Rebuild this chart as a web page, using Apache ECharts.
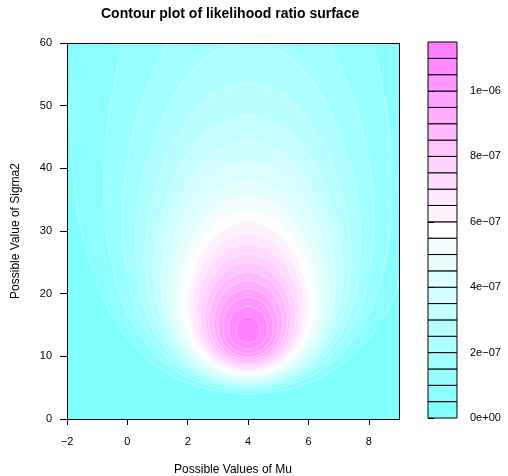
<!DOCTYPE html>
<html><head><meta charset="utf-8">
<script src="https://cdn.jsdelivr.net/npm/echarts@6/dist/echarts.min.js"></script>
<style>html,body{margin:0;padding:0;background:#fff}#chart{width:508px;height:476px}</style>
</head><body><div id="chart"></div>
<script>
// ---------- text ----------
const titleText = 'Contour plot of likelihood ratio surface';
const xName = 'Possible Values of Mu';
const yName = 'Possible Value of Sigma2';

// ---------- axes / tick labels ----------
const xRange = [-2, 9];
const yRange = [0, 60];
const xTicks = [-2, 0, 2, 4, 6, 8];
const yTicks = [0, 10, 20, 30, 40, 50, 60];
const keyTickValues = [0, 2e-7, 4e-7, 6e-7, 8e-7, 1e-6];
const keyTickLabels = ['0e+00', '2e\u221207', '4e\u221207', '6e\u221207', '8e\u221207', '1e\u221206'];

// ---------- colour-key cut points (likelihood ratio) ----------
const levelBreaks = [0, 5e-8, 1e-7, 1.5e-7, 2e-7, 2.5e-7, 3e-7, 3.5e-7, 4e-7, 4.5e-7, 5e-7, 5.5e-7,
  6e-7, 6.5e-7, 7e-7, 7.5e-7, 8e-7, 8.5e-7, 9e-7, 9.5e-7, 1e-6, 1.05e-6, 1.1e-6, 1.15e-6];

// ---------- contour boundaries read from the surface ----------
// the surface is symmetric about mu = muHat; each level lists [sigma2, half-width in mu]
const muHat = 4;
const lvl01 = [[4,0],[4.5,1.105],[5,1.544],[6,2.137],[7,2.566],[8,2.908],[10,3.441],[14,4.179],[20,4.880],[30,5.527],[40,5.823],[50,5.892],[60,5.790],[70,5.537]];
const lvl02 = [[4.51,0],[5,0.999],[5.5,1.405],[6,1.704],[7,2.155],[8,2.497],[10,3.011],[14,3.685],[20,4.275],[30,4.716],[40,4.777],[50,4.567],[60,4.111],[70,3.355],[80,2.04],[85.5,0]];
const lvl03 = [[4.91,0],[5,0.431],[5.5,1.039],[6,1.389],[7,1.872],[8,2.222],[10,2.728],[14,3.363],[20,3.876],[30,4.167],[40,4.040],[50,3.569],[60,2.674],[65,1.928],[69.9,0]];
const lvl04 = [[5.24,0],[5.5,0.670],[6,1.114],[7,1.644],[8,2.005],[10,2.509],[14,3.114],[20,3.568],[30,3.731],[40,3.425],[50,2.646],[55,1.968],[58,1.336],[60,0.514],[60.36,0]];
const lvl05 = [[5.53,0],[6,0.840],[7,1.441],[8,1.818],[10,2.325],[14,2.907],[20,3.308],[30,3.353],[40,2.857],[45,2.370],[50,1.594],[52,1.079],[53.65,0]];
const lvl06 = [[5.82,0],[6,0.516],[6.5,0.966],[7,1.251],[8,1.649],[10,2.161],[14,2.725],[20,3.079],[30,3.008],[40,2.287],[45,1.524],[47,0.998],[48.5,0]];
const lvl07 = [[6.09,0],[6.5,0.730],[7,1.065],[8,1.492],[10,2.014],[14,2.562],[20,2.872],[30,2.683],[35,2.313],[40,1.664],[43,0.955],[44.4,0]];
const lvl08 = [[6.355,0],[6.5,0.433],[7,0.873],[8,1.342],[10,1.877],[14,2.412],[20,2.680],[30,2.367],[35,1.867],[38,1.362],[40,0.8],[41.0,0]];
const lvl09 = [[6.615,0],[7,0.657],[7.5,0.972],[8,1.193],[10,1.747],[14,2.271],[20,2.498],[25,2.392],[30,2.046],[35,1.354],[37,0.825],[38.13,0]];
const lvl10 = [[6.88,0],[7,0.367],[7.5,0.792],[8,1.042],[10,1.621],[14,2.136],[20,2.322],[25,2.159],[30,1.708],[32,1.409],[34,0.962],[35,0.592],[35.6,0]];
const lvl11 = [[7.146,0],[7.5,0.585],[8,0.884],[9,1.253],[10,1.499],[14,2.008],[20,2.152],[25,1.926],[30,1.333],[32,0.876],[33.38,0]];
const lvl12 = [[7.416,0],[7.5,0.285],[8,0.709],[9,1.121],[10,1.378],[12,1.700],[14,1.883],[17,2.001],[20,1.984],[25,1.685],[28,1.300],[30,0.856],[31.39,0]];
const lvl13 = [[7.70,0],[8,0.496],[9,0.984],[10,1.257],[12,1.583],[14,1.760],[17,1.860],[20,1.816],[22,1.709],[25,1.428],[28,0.892],[29.58,0]];
const lvl14 = [[7.99,0],[8.3,0.482],[9,0.838],[10,1.133],[12,1.466],[14,1.638],[17,1.720],[20,1.644],[22,1.507],[25,1.140],[27,0.665],[27.93,0]];
const lvl15 = [[8.34,0],[8.6,0.447],[9,0.673],[10,1.004],[12,1.349],[14,1.515],[17,1.578],[20,1.467],[22,1.290],[25,0.781],[26.38,0]];
const lvl16 = [[8.68,0],[9,0.469],[10,0.865],[12,1.228],[14,1.390],[17,1.431],[20,1.278],[22,1.045],[24,0.620],[25.0,0]];
const lvl17 = [[9.0,0],[9.4,0.471],[10,0.713],[11,0.952],[12,1.104],[14,1.263],[17,1.280],[20,1.073],[22,0.750],[23.5,0]];
const lvl18 = [[9.44,0],[10,0.529],[11,0.810],[12,0.972],[14,1.130],[17,1.119],[20,0.834],[21,0.635],[22.16,0]];
const lvl19 = [[9.87,0],[10,0.253],[11,0.647],[12,0.829],[14,0.987],[17,0.940],[19,0.724],[20,0.514],[20.85,0]];
const lvl20 = [[10.46,0],[11,0.435],[12,0.661],[13,0.777],[14,0.827],[16,0.804],[17,0.728],[18,0.6],[19,0.359],[19.47,0]];
const lvl21 = [[11.13,0],[12,0.449],[13,0.590],[14,0.639],[15,0.639],[16,0.577],[17,0.444],[17.96,0]];
const lvl22 = [[12.16,0],[12.5,0.235],[13,0.330],[14,0.389],[15,0.363],[16,0.196],[16.26,0]];
const contours = [lvl01,lvl02,lvl03,lvl04,lvl05,lvl06,lvl07,lvl08,lvl09,lvl10,lvl11,
  lvl12,lvl13,lvl14,lvl15,lvl16,lvl17,lvl18,lvl19,lvl20,lvl21,lvl22];

// ---------- style: cyan -> white -> magenta ramp (cm.colors style), one per key box ----------
function hex2(v) { const h = Math.round(v).toString(16).toUpperCase(); return h.length < 2 ? '0' + h : h; }
const nBoxes = levelBreaks.length - 1;
const half = Math.floor(nBoxes / 2);
const palette = [];
for (let i = 0; i <= half; i++) {
  const s = 0.5 - i * 0.5 / half;
  palette.push('#' + hex2(255 * (1 - s)) + 'FFFF');
}
for (let j = 1; j < nBoxes - half; j++) {
  const s = j * 0.5 / half;
  palette.push('#FF' + hex2(255 * (1 - s)) + 'FF');
}

const FONT = "'Liberation Sans', Arial, Helvetica, sans-serif";
const minusFmt = v => String(v).replace('-', '\u2212');

function contourPoints(c, api) {
  const pts = c.map(p => api.coord([muHat + p[1], p[0]]));
  for (let i = c.length - 1; i >= 0; i--) {
    if (c[i][1] === 0) continue;
    pts.push(api.coord([muHat - c[i][1], c[i][0]]));
  }
  return pts;
}

const chart = echarts.init(document.getElementById('chart'), null, { renderer: 'canvas' });
chart.setOption({
  animation: false,
  backgroundColor: '#fff',
  textStyle: { fontFamily: FONT },
  title: {
    text: titleText, left: 101, top: 7, padding: 0,
    textStyle: { fontFamily: FONT, fontSize: 14, fontWeight: 'bold', color: '#000' }
  },
  grid: [
    { left: 67, top: 43, width: 332, height: 376, show: true, backgroundColor: palette[0], borderWidth: 0,
      containLabel: false, outerBoundsMode: 'none' },
    { left: 428, top: 42, width: 29, height: 376, show: false, containLabel: false, outerBoundsMode: 'none' }
  ],
  xAxis: [
    {
      gridIndex: 0, type: 'value', min: xRange[0], max: xRange[1], interval: 2, position: 'bottom', z: 10,
      axisLine: { show: true, onZero: false, lineStyle: { color: '#000', width: 1 } },
      axisTick: { show: true, length: 6, customValues: xTicks, lineStyle: { color: '#000' } },
      axisLabel: { customValues: xTicks, formatter: minusFmt, fontSize: 11, margin: 17, color: '#000', fontFamily: FONT },
      splitLine: { show: false },
      name: xName, nameLocation: 'middle', nameGap: 45,
      nameTextStyle: { fontSize: 12, color: '#000', fontFamily: FONT }
    },
    {
      gridIndex: 0, type: 'value', min: xRange[0], max: xRange[1], position: 'top', z: 10,
      axisLine: { show: true, onZero: false, lineStyle: { color: '#000', width: 1 } },
      axisTick: { show: false }, axisLabel: { show: false }, splitLine: { show: false }
    },
    { gridIndex: 1, type: 'value', min: 0, max: 1, show: false }
  ],
  yAxis: [
    {
      gridIndex: 0, type: 'value', min: yRange[0], max: yRange[1], interval: 10, position: 'left', z: 10,
      axisLine: { show: true, onZero: false, lineStyle: { color: '#000', width: 1 } },
      axisTick: { show: true, length: 7, customValues: yTicks, lineStyle: { color: '#000' } },
      axisLabel: { customValues: yTicks, fontSize: 11, margin: 15, color: '#000', fontFamily: FONT },
      splitLine: { show: false },
      name: yName, nameLocation: 'middle', nameGap: 45,
      nameTextStyle: { fontSize: 12, color: '#000', fontFamily: FONT }
    },
    {
      gridIndex: 0, type: 'value', min: yRange[0], max: yRange[1], position: 'right', z: 10,
      axisLine: { show: true, onZero: false, lineStyle: { color: '#000', width: 1 } },
      axisTick: { show: false }, axisLabel: { show: false }, splitLine: { show: false }
    },
    {
      gridIndex: 1, type: 'value', min: levelBreaks[0], max: levelBreaks[levelBreaks.length - 1], position: 'right', z: 10,
      axisLine: { show: false },
      axisTick: { show: true, length: 6, customValues: keyTickValues, lineStyle: { color: '#000' } },
      axisLabel: {
        customValues: keyTickValues, fontSize: 11, margin: 13, color: '#000', fontFamily: FONT,
        formatter: v => { const i = keyTickValues.findIndex(t => Math.abs(t - v) < 1e-12); return i >= 0 ? keyTickLabels[i] : ''; }
      },
      splitLine: { show: false }
    }
  ],
  series: [
    {
      type: 'custom', name: 'surface', xAxisIndex: 0, yAxisIndex: 0, clip: true, z: 2,
      data: contours.map((c, i) => [levelBreaks[i + 1]]),
      renderItem: (params, api) => ({
        type: 'polygon',
        shape: { points: contourPoints(contours[params.dataIndex], api), smooth: 0.3 },
        style: { fill: palette[params.dataIndex + 1], stroke: 'rgba(255,255,255,0.35)', lineWidth: 1 }
      })
    },
    {
      type: 'custom', name: 'key', xAxisIndex: 2, yAxisIndex: 2, z: 2,
      data: levelBreaks.slice(0, -1).map((b, i) => [0, b]),
      renderItem: (params, api) => {
        const i = params.dataIndex;
        const p0 = api.coord([0, levelBreaks[i + 1]]);
        const p1 = api.coord([1, levelBreaks[i]]);
        return {
          type: 'rect',
          shape: { x: p0[0], y: p0[1], width: p1[0] - p0[0], height: p1[1] - p0[1] },
          style: { fill: palette[i], stroke: '#000', lineWidth: 1 }
        };
      }
    }
  ]
});
</script></body></html>
